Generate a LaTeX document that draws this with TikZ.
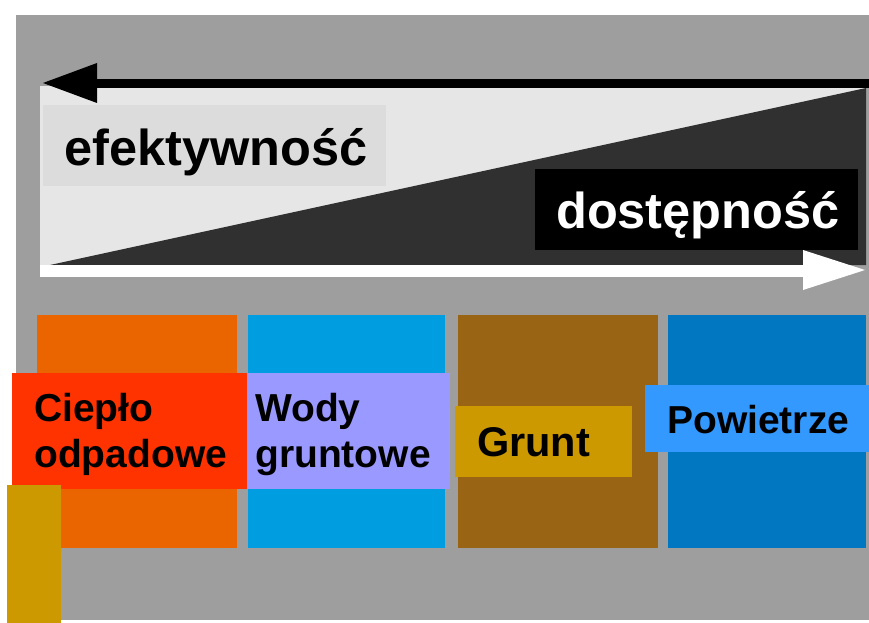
\documentclass[tikz,border=0pt]{standalone}
\usepackage{fontspec}
\setmainfont{Liberation Sans}
\definecolor{panelgray}{HTML}{9E9E9E}
\definecolor{lightpanel}{HTML}{E6E6E6}
\definecolor{effbox}{HTML}{DCDCDC}
\definecolor{darktri}{HTML}{303030}
\definecolor{cOrange}{HTML}{EA6400}
\definecolor{cBlue}{HTML}{009EE0}
\definecolor{cBrown}{HTML}{996515}
\definecolor{cDarkBlue}{HTML}{0077C0}
\definecolor{cRed}{HTML}{FF3300}
\definecolor{cLavender}{HTML}{9999FF}
\definecolor{cGold}{HTML}{CC9900}
\definecolor{cSky}{HTML}{3399FF}
\tikzset{
  bigtxt/.style={anchor=base west, inner sep=0pt, font=\bfseries\fontsize{50.5}{60}\selectfont},
  lbltxt/.style={anchor=base west, inner sep=0pt, font=\bfseries\fontsize{39}{46}\selectfont},
}
\begin{document}
\begin{tikzpicture}[x=1pt,y=-1pt]
\useasboundingbox (0,0) rectangle (869,623);
\fill[white] (0,0) rectangle (869,623);
% gray panel
\fill[panelgray] (16,15) rectangle (869,620);
% light panel and dark triangle
\fill[lightpanel] (40,86) rectangle (866,265);
\fill[darktri] (50,265) -- (866,88) -- (866,265) -- cycle;
% black arrow (leftwards)
\fill[black] (90,79) rectangle (869,88);
\fill[black] (43,83) -- (97,63) -- (97,103) -- cycle;
% white arrow (rightwards)
\fill[white] (40,265) rectangle (806,277);
\fill[white] (865,270) -- (803,250) -- (803,290) -- cycle;
% text boxes
\fill[effbox] (43,105) rectangle (386,186);
\node[bigtxt, text=black] (eff) at (64,165) {efektywność};
\fill[black] (535,169) rectangle (858,250);
\node[bigtxt, text=white] (dost) at (556,228) {dostępność};
% four columns
\fill[cOrange] (37,315) rectangle (237,548);
\fill[cBlue] (248,315) rectangle (445,548);
\fill[cBrown] (458,315) rectangle (658,548);
\fill[cDarkBlue] (668,315) rectangle (866,548);
% labels
\fill[cRed] (12,373) rectangle (247,489);
\node[lbltxt] (cieplo1) at (34,421) {Ciepło};
\node[lbltxt] (cieplo2) at (34,467) {odpadowe};
\fill[cLavender] (247,373) rectangle (450,489);
\node[lbltxt] (wody1) at (255,421) {Wody};
\node[lbltxt] (wody2) at (255,467) {gruntowe};
\fill[cGold] (455,406) rectangle (632,477);
\node[lbltxt, font=\bfseries\fontsize{41.5}{48}\selectfont] (grunt) at (477,456) {Grunt};
\fill[cSky] (645,385) rectangle (869,452);
\node[lbltxt] (pow) at (667,433) {Powietrze};
% gold block bottom-left
\fill[cGold] (7,485) rectangle (61,623);
\end{tikzpicture}
\end{document}
